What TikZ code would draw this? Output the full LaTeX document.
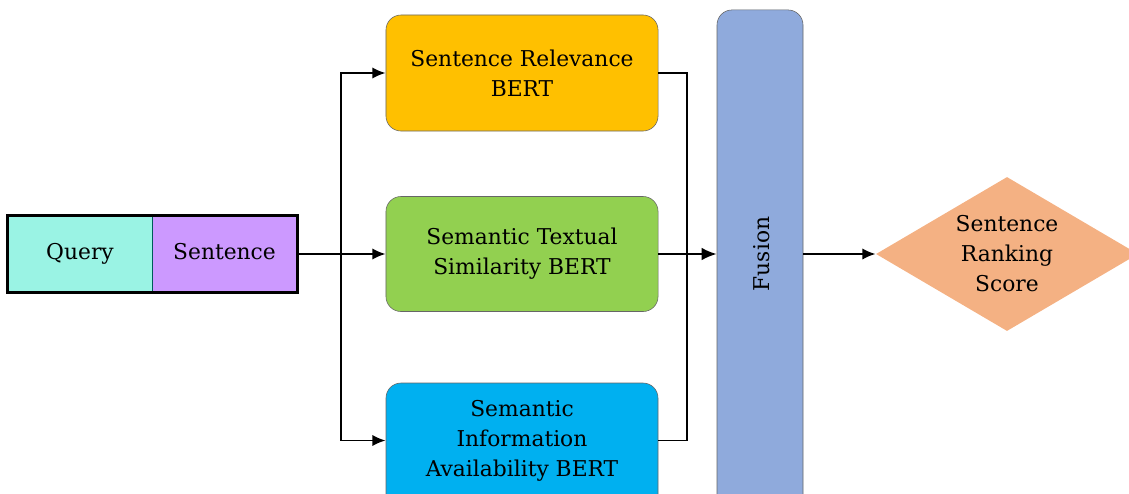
\documentclass[tikz,border=0pt]{standalone}
\usepackage{fontspec}
\setmainfont{DejaVu Serif}
\usetikzlibrary{shapes.geometric}
\usetikzlibrary{arrows.meta}

\definecolor{relcol}{HTML}{FFC000}
\definecolor{simcol}{HTML}{92D050}
\definecolor{infcol}{HTML}{00B0F0}
\definecolor{fuscol}{HTML}{8FAADC}
\definecolor{scorecol}{HTML}{F4B183}
\definecolor{querycol}{HTML}{9AF3E4}
\definecolor{sentcol}{HTML}{CC99FF}

\begin{document}
\begin{tikzpicture}
     [x=0.025cm,y=-0.025cm,
      font=\fontsize{15.5}{21.3}\selectfont,
      % Styles
        bert box/.style={draw=black!60,rounded corners=0.375cm,align=center,
          minimum width=6.8cm,minimum height=2.9cm,inner sep=0pt},
        input part/.style={minimum width=3.6cm,minimum height=1.925cm,inner sep=0pt,
          text height=1.5ex,text depth=0ex},
        connector/.style={line width=1.4pt},
        arrow line/.style={connector,-{Latex[length=0.33cm,width=0.28cm]}}]
    \useasboundingbox (0,0) rectangle (1129,493);
    % input pair
    \node[input part,fill=querycol] (query) at (80,254) {Query};
    \node[input part,fill=sentcol,minimum width=3.625cm] (sentence) at (224.5,254) {Sentence};
    \draw[teal!70!black,thin] (query.north east) -- (query.south east);
    \draw[line width=2.2pt] (query.north west) rectangle (sentence.south east);
    % the three BERT models
    \node[bert box,fill=relcol] (rel) at (522,73) {Sentence Relevance\\BERT};
    \node[bert box,fill=simcol,minimum height=2.875cm] (sim) at (522,254) {Semantic Textual\\Similarity BERT};
    \fill[infcol,draw=black!60,rounded corners=0.375cm] (386,383) rectangle (658,520); % runs off the page
    \node[bert box,draw=none,minimum height=2.875cm] (inf) at (522,440.5) {Semantic\\Information\\Availability BERT};
    % fusion and score
    \node[draw=black!60,fill=fuscol,rounded corners=0.375cm,minimum width=2.15cm,
          minimum height=12.75cm,inner sep=0pt] (fusion) at (760,265) {};
    \node[rotate=90] (fusionlabel) at (762,254) {Fusion};
    \node[diamond,aspect=1.7,fill=scorecol,inner sep=0pt,align=center,
          minimum width=6.55cm,minimum height=3.85cm] (score) at (1007,254) {Sentence\\Ranking\\Score};

    \coordinate (split) at (341,254);
    \coordinate (join) at (687,254);
    \draw[arrow line] (sentence.east) -- (sim.west);
    \draw[arrow line] (split) |- (rel.west);
    \draw[arrow line] (split) |- (inf.west);
    \draw[connector] (rel.east) -| (join) |- (inf.east);
    \draw[connector,-{Latex[length=0.38cm,width=0.32cm]}] (sim.east) -- (sim.east -| fusion.west);
    \draw[arrow line] (score.west -| fusion.east) -- (score.west);
  \end{tikzpicture}
\end{document}
